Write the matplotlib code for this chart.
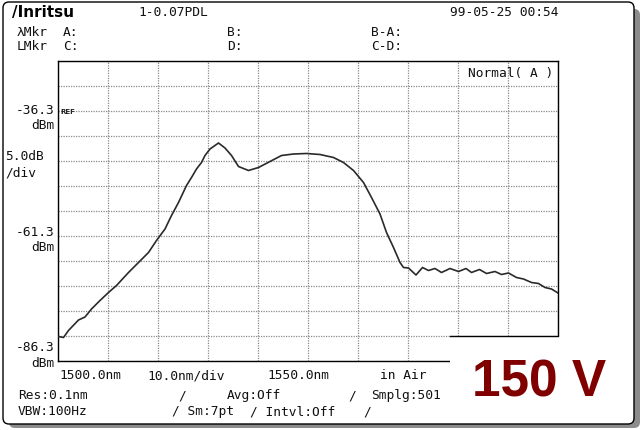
import matplotlib
matplotlib.use("Agg")
import matplotlib.pyplot as plt
from matplotlib.patches import FancyBboxPatch, Rectangle

# trace: wavelength (nm) and level (dBm)
WL = [1500.1, 1501.1, 1502.1, 1504.1, 1505.4, 1506.7, 1508.4, 1510.1, 1511.7,
      1514.1, 1516.1, 1518.1, 1519.7, 1521.4, 1522.7, 1524.1, 1525.7, 1526.7,
      1527.7, 1528.7, 1529.4, 1530.4, 1532.1, 1533.4, 1534.7, 1536.1, 1538.1,
      1540.1, 1542.4, 1544.7, 1547.1, 1549.7, 1552.4, 1555.1, 1557.1, 1559.1,
      1561.1, 1562.7, 1564.4, 1565.7, 1567.1, 1568.4, 1569.1, 1570.1, 1571.6,
      1572.9, 1574.1, 1575.4, 1576.7, 1578.4, 1580.1, 1581.6, 1582.7, 1584.3,
      1585.7, 1587.4, 1588.7, 1590.1, 1591.7, 1593.1, 1594.7, 1596.1, 1597.4,
      1598.7, 1600.0]
LEVEL = [-81.4, -81.6, -80.2, -78.1, -77.5, -75.9, -74.2, -72.6, -71.2,
         -68.6, -66.6, -64.6, -62.2, -59.9, -57.2, -54.6, -51.2, -49.6,
         -47.9, -46.6, -45.2, -43.9, -42.7, -43.7, -45.2, -47.4, -48.2,
         -47.6, -46.4, -45.2, -44.9, -44.8, -45.0, -45.6, -46.6, -48.2,
         -50.6, -53.6, -56.9, -60.6, -63.6, -66.6, -67.6, -67.7, -69.1,
         -67.6, -68.2, -67.8, -68.6, -67.8, -68.4, -67.8, -68.6, -68.0,
         -68.8, -68.4, -69.0, -68.7, -69.6, -69.9, -70.6, -70.8, -71.6,
         -71.9, -72.7]

START, SPAN_DIV = 1500.0, 10.0   # nm, nm/div
REF, DB_DIV = -36.3, 5.0         # dBm, dB/div

W, H = 642, 431
fig = plt.figure(figsize=(W / 100, H / 100), dpi=100)

# background layer in screen pixels: frame, shadow, all the readout texts
bg = fig.add_axes([0, 0, 1, 1])
bg.set_xlim(0, W)
bg.set_ylim(H, 0)
bg.axis("off")
bg.add_patch(FancyBboxPatch((9, 10), 631, 419, boxstyle="round,pad=0,rounding_size=6",
                            fc="#8c8c8c", ec="none"))
bg.add_patch(FancyBboxPatch((3, 3), 631, 422, boxstyle="round,pad=0,rounding_size=6",
                            fc="white", ec="black", lw=1.0))

MONO = "DejaVu Sans Mono"
FS = 9.3
def t(x, y, s, ha="left", **kw):
    kw.setdefault("fontsize", FS)
    kw.setdefault("family", MONO)
    bg.text(x, y, s, ha=ha, va="center", color="#111", **kw)

bg.text(12, 12, "/Inritsu", ha="left", va="center", fontsize=11, weight="bold",
        family="DejaVu Sans", color="black")
t(138, 12, "1-0.07PDL")
t(450, 12, "99-05-25 00:54")
t(17, 32, "λMkr"); t(63, 32, "A:"); t(227, 32, "B:"); t(371, 32, "B-A:")
t(17, 47, "LMkr"); t(63, 47, "C:"); t(227, 47, "D:"); t(371, 47, "C-D:")

t(55, 111, "-36.3", ha="right"); t(55, 126, "dBm", ha="right")
t(5, 157, "5.0dB"); t(5, 173, "/div")
t(55, 233, "-61.3", ha="right"); t(55, 248, "dBm", ha="right")
t(55, 348, "-86.3", ha="right"); t(55, 364, "dBm", ha="right")

t(59, 376, "1500.0nm"); t(147, 376, "10.0nm/div"); t(267, 376, "1550.0nm"); t(380, 376, "in Air")
t(18, 396, "Res:0.1nm"); t(178, 396, "/"); t(227, 396, "Avg:Off"); t(348, 396, "/"); t(371, 396, "Smplg:501")
t(18, 412, "VBW:100Hz"); t(172, 412, "/ Sm:7pt"); t(250, 412, "/ Intvl:Off"); t(363, 412, "/")

# measurement grid
ax = fig.add_axes([58 / W, (H - 362) / H, 500 / W, 300 / H])
ax.set_xlim(START, START + 10 * SPAN_DIV)
ax.set_ylim(REF - 10 * DB_DIV, REF + 2 * DB_DIV)
ax.set_xticks([START + i * SPAN_DIV for i in range(11)])
ax.set_yticks([REF - 10 * DB_DIV + i * DB_DIV for i in range(13)])
ax.tick_params(length=0, labelbottom=False, labelleft=False)
ax.grid(True, color="#8a8a8a", lw=0.9, ls=(0, (1, 1)))
for sp in ax.spines.values():
    sp.set_color("black")
    sp.set_linewidth(1.0)
ax.plot(WL, LEVEL, color="#2a2a2a", lw=1.2, zorder=3)

ax.text(START + 0.5, REF, "REF", fontsize=5, weight="bold", va="center", ha="left",
        family="DejaVu Sans", color="#222")
ax.text(START + 99, REF + 1.5 * DB_DIV + 0.2, "Normal( A )", fontsize=FS, family=MONO,
        ha="right", va="center", color="#111")

# voltage label box cut into the lower right corner of the screen
cut_x = START + 7.84 * SPAN_DIV
ax.add_patch(Rectangle((cut_x, REF - 10.4 * DB_DIV), 3 * SPAN_DIV, 1.4 * DB_DIV - 0.02,
                       fc="white", ec="none", zorder=10, clip_on=False))
ax.plot([cut_x, START + 10 * SPAN_DIV], [REF - 9 * DB_DIV] * 2, color="black", lw=1.0,
        zorder=11, clip_on=False)

bg2 = fig.add_axes([0, 0, 1, 1], zorder=5)
bg2.set_xlim(0, W)
bg2.set_ylim(H, 0)
bg2.axis("off")
bg2.text(539, 383, "150 V", ha="center", va="center", fontsize=37, weight="bold",
         family="Liberation Sans", color="#800000")

fig.savefig("out.png", dpi=100)
